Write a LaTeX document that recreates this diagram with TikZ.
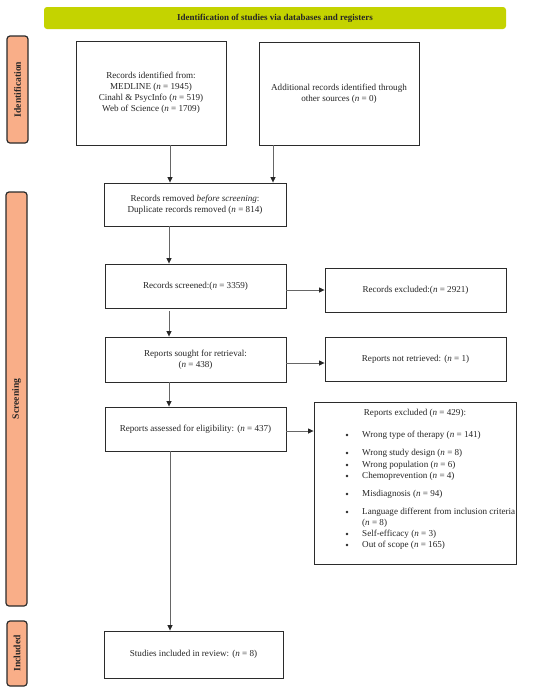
\documentclass[tikz,border=0pt]{standalone}
\usepackage{fontspec}
\setmainfont{Liberation Serif}
\usetikzlibrary{arrows.meta}
\definecolor{lime}{HTML}{C4D300}
\definecolor{salmon}{HTML}{F9AE88}
\definecolor{edge}{HTML}{2B2B2B}
\begin{document}
\begin{tikzpicture}[x=1pt,y=-1pt,
  box/.style={draw=edge, line width=0.9pt, fill=white, align=center, inner sep=0pt,
    font=\fontsize{9.1}{11}\selectfont, text=black!85},
  side/.style={draw=edge, line width=1.2pt, fill=salmon, rounded corners=3pt, inner sep=0pt},
  sidelabel/.style={rotate=90, font=\fontsize{9.6}{11}\selectfont\bfseries, text=black!85},
  banner/.style={fill=lime, rounded corners=3pt, inner sep=0pt,
    font=\fontsize{9}{11}\selectfont\bfseries, text=black!85},
  item/.style={anchor=west, inner sep=0pt, font=\fontsize{9.1}{11}\selectfont, text=black!85},
  dot/.style={inner sep=0pt, font=\fontsize{9.1}{11}\selectfont, text=black!85},
  bul/.style={circle, fill=black!85, inner sep=0pt, minimum size=2.8pt},
  arr/.style={-{Triangle[length=5.5pt,width=5pt,fill=black!85,color=black!85]}, line width=0.7pt, draw=black!60}]
\useasboundingbox (0,0) rectangle (550,691);

% banner and side bars
\node[banner, minimum width=462pt, minimum height=22pt] (ban) at (275,18)
  {Identification of studies via databases and registers};
\node[side, minimum width=21pt, minimum height=107pt] (sid) at (17.5,89.5) {};
\node[sidelabel] (sidt) at (sid.center) {Identification};
\node[side, minimum width=21pt, minimum height=414pt] (sscr) at (16.5,399) {};
\node[sidelabel] (sscrt) at (sscr.center) {Screening};
\node[side, minimum width=20pt, minimum height=65pt] (sinc) at (17,653.5) {};
\node[sidelabel] (sinct) at (sinc.center) {Included};

% boxes
\node[box, minimum width=150pt, minimum height=104pt] (ident) at (151,93)
  {Records identified from:\\ MEDLINE (\textit{n} = 1945)\\ Cinahl \& PsycInfo (\textit{n} = 519)\\ Web of Science (\textit{n} = 1709)};
\node[box, minimum width=160pt, minimum height=103pt] (addl) at (339,93.5)
  {Additional records identified through\\ other sources (\textit{n} = 0)};
\node[box, minimum width=182pt, minimum height=43pt] (removed) at (195,204.5)
  {Records removed \textit{before screening}:\\ Duplicate records removed (\textit{n} = 814)};
\node[box, minimum width=181pt, minimum height=44pt] (screened) at (195.5,286)
  {Records screened:(\textit{n} = 3359)};
\node[box, minimum width=181pt, minimum height=44pt] (excl) at (415.5,290)
  {Records excluded:(\textit{n} = 2921)};
\node[box, minimum width=181pt, minimum height=45pt] (sought) at (195.5,359.5)
  {Reports sought for retrieval:\\ (\textit{n} = 438)};
\node[box, minimum width=181pt, minimum height=44pt] (notret) at (415.5,359)
  {Reports not retrieved: (\textit{n} = 1)};
\node[box, minimum width=181pt, minimum height=44pt] (assessed) at (195.5,429)
  {Reports assessed for eligibility: (\textit{n} = 437)};
\node[box, minimum width=202pt, minimum height=162pt] (repex) at (415,483) {};
\node[box, minimum width=179pt, minimum height=47pt] (incl) at (193.5,654.5)
  {Studies included in review: (\textit{n} = 8)};

% reports excluded contents
\node[dot] (hdr) at (415,413) {Reports excluded (\textit{n} = 429):};
\node[bul] (b1) at (347,435) {};
\node[item] (t1) at (362,435) {Wrong type of therapy (\textit{n} = 141)};
\node[bul] (b2) at (347,453) {};
\node[item] (t2) at (362,453) {Wrong study design (\textit{n} = 8)};
\node[bul] (b3) at (347,465) {};
\node[item] (t3) at (362,465) {Wrong population (\textit{n} = 6)};
\node[bul] (b4) at (347,476) {};
\node[item] (t4) at (362,476) {Chemoprevention (\textit{n} = 4)};
\node[bul] (b5) at (347,494) {};
\node[item] (t5) at (362,494) {Misdiagnosis (\textit{n} = 94)};
\node[bul] (b6) at (347,512) {};
\node[item] (t6) at (362,512) {Language different from inclusion criteria};
\node[item] (t6b) at (362,523) {(\textit{n} = 8)};
\node[bul] (b7) at (347,534) {};
\node[item] (t7) at (362,534) {Self-efficacy (\textit{n} = 3)};
\node[bul] (b8) at (347,545) {};
\node[item] (t8) at (362,545) {Out of scope (\textit{n} = 165)};

% connectors
\draw[arr] ([xshift=19pt]ident.south) -- ([xshift=19pt]ident.south |- removed.north);
\draw[arr] ([xshift=-66pt]addl.south) -- ([xshift=-66pt]addl.south |- removed.north);
\draw[arr] ([xshift=-26pt]removed.south) -- ([xshift=-26pt]removed.south |- screened.north);
\draw[arr] ([xshift=-26.5pt,yshift=-3pt]screened.south) -- ([xshift=-26.5pt]screened.south |- sought.north);
\draw[arr] ([xshift=-26.5pt]sought.south) -- ([xshift=-26.5pt]sought.south |- assessed.north);
\draw[arr] ([xshift=-25.5pt]assessed.south) -- ([xshift=-25.5pt]assessed.south |- incl.north);
\draw[arr] ([yshift=-4pt]screened.east) -- ([yshift=-4pt]screened.east -| excl.west);
\draw[arr] ([yshift=-3.5pt]sought.east) -- ([yshift=-3.5pt]sought.east -| notret.west);
\draw[arr] ([yshift=-2pt]assessed.east) -- ([yshift=-2pt]assessed.east -| repex.west);
\end{tikzpicture}
\end{document}
